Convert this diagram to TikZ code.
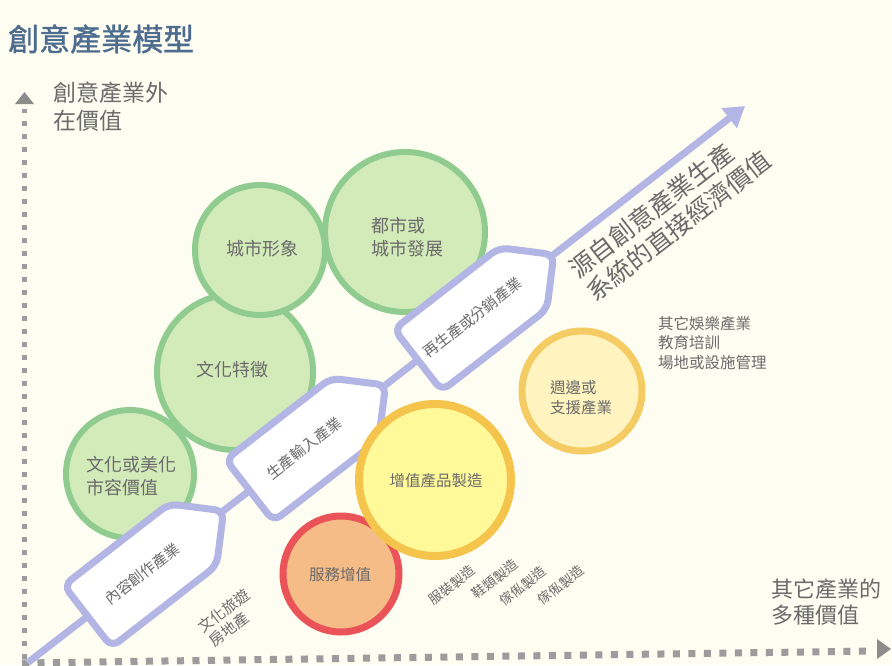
\documentclass[tikz,border=0pt]{standalone}
\usepackage{fontspec}
\setmainfont{Noto Sans CJK TC}
\newfontfamily\titlefont[FakeBold=1.2]{Noto Sans CJK TC}
\usetikzlibrary{arrows.meta}
\definecolor{bgcol}{HTML}{FDFDF1}
\definecolor{axgray}{HTML}{9C9C9C}
\definecolor{tipgray}{HTML}{8C8C8C}
\definecolor{txtgray}{HTML}{6B6B6B}
\definecolor{titleblue}{HTML}{4E6D8E}
\definecolor{lav}{HTML}{B3B6E4}
\definecolor{grfill}{HTML}{D3EAB9}
\definecolor{grline}{HTML}{90CB90}
\definecolor{yefill}{HTML}{FFF99A}
\definecolor{yeline}{HTML}{F4C44C}
\definecolor{orfill}{HTML}{F5BC88}
\definecolor{orline}{HTML}{EA5357}
\definecolor{pafill}{HTML}{FFF4C0}
\definecolor{paline}{HTML}{F5CB64}
\tikzset{
  greencirc/.style={circle, draw=grline, fill=grfill, line width=6pt, inner sep=0pt},
  yellowcirc/.style={circle, draw=yeline, fill=yefill, line width=8pt, inner sep=0pt},
  redcirc/.style={circle, draw=orline, fill=orfill, line width=7pt, inner sep=0pt},
  palecirc/.style={circle, draw=paline, fill=pafill, line width=7pt, inner sep=0pt},
  ctext/.style={text=txtgray, inner sep=0pt, align=left, font=\fontsize{18}{22.5}\selectfont},
  stext/.style={text=txtgray, inner sep=0pt, align=left, font=\fontsize{15.5}{20}\selectfont},
  boxline/.style={draw=lav, fill=white, line width=7pt, rounded corners=9pt},
  boxtext/.style={text=txtgray, inner sep=0pt, font=\fontsize{15}{17}\selectfont},
  flow/.style={draw=lav, line width=7pt, -{Triangle[length=20pt,width=24pt]}},
  axislbl/.style={text=txtgray, inner sep=0pt, align=left},
  rottext/.style={text=txtgray, inner sep=0pt, align=left, rotate=37.8},
  vdots/.style={draw=axgray, line width=5pt, dash pattern=on 5pt off 8pt},
  hdots/.style={draw=axgray, line width=7pt, dash pattern=on 7pt off 8.5pt},
}
\newcommand{\ProdBox}[3]{%
  \begin{scope}[shift={#2}, rotate=37.8]
    \path[boxline] (0,0) -- (0,-39) -- (133,-39) -- (172,0) -- (133,39) -- (0,39) -- cycle;
    \node[boxtext, transform shape] (#1) at (69,0) {#3};
  \end{scope}}
\begin{document}
\begin{tikzpicture}[x=1pt,y=-1pt]
\fill[bgcol] (0,0) rectangle (892,665);
\useasboundingbox (0,0) rectangle (892,665);

% axes
\coordinate (yo) at (24.5,659);
\coordinate (ytop) at (24.5,109);
\coordinate (xo) at (22,663);
\coordinate (xend) at (874,651);
\draw[vdots] (yo) -- (ytop);
\fill[tipgray] (15,104) -- (24.5,92) -- (34,104) -- cycle;
\draw[hdots] (xo) -- (xend);
\fill[tipgray] (877,639) -- (891,649) -- (877,659) -- cycle;

% title and axis labels
\node[anchor=west, text=titleblue, inner sep=0pt, font=\titlefont\fontsize{31}{31}\selectfont] (title) at (8,39) {創意產業模型};
\node[axislbl, anchor=west, font=\fontsize{23}{28}\selectfont] (ylbl) at (53,107) {創意產業外\\在價值};
\node[axislbl, anchor=west, font=\fontsize{22}{26}\selectfont] (xlbl) at (771,602) {其它產業的\\多種價值};

% green circles
\node[greencirc, minimum size=156pt] (g2) at (235,372) {};
\node[greencirc, minimum size=128pt] (g1) at (130,474) {};
\node[greencirc, minimum size=130pt] (g3) at (260,250) {};
\node[greencirc, minimum size=160pt] (g4) at (405,232) {};

% main diagonal flow
\coordinate (flowstart) at (27.6,662.8);
\coordinate (flowend) at (745,106);
\draw[flow] (flowstart) -- (flowend);

% production boxes
\ProdBox{b1}{(87.7,616.2)}{內容創作產業}
\ProdBox{b2}{(249.65,490.5)}{生產輸入產業}
\ProdBox{b3}{(417.9,360.0)}{再生產或分銷產業}

% other circles
\node[redcirc, minimum size=116pt] (r1) at (341,574) {};
\node[yellowcirc, minimum size=152pt] (y1) at (435,480) {};
\node[palecirc, minimum size=120pt] (y2) at (582,391) {};

% circle texts
\node[ctext] (g1t) at (131,476) {文化或美化\\市容價值};
\node[ctext] (g2t) at (232,370) {文化特徵};
\node[ctext] (g3t) at (262,249) {城市形象};
\node[ctext] (g4t) at (407,237) {都市或\\城市發展};
\node[stext] (y1t) at (436,481) {增值產品製造};
\node[stext] (r1t) at (340,575) {服務增值};
\node[stext] (y2t) at (581,398) {週邊或\\支援產業};

% side labels
\node[stext, anchor=west, font=\fontsize{15.5}{19.5}\selectfont] (others) at (658,343) {其它娛樂產業\\教育培訓\\場地或設施管理};
\node[rottext, font=\fontsize{25}{29}\selectfont] (direct) at (670,214.5) {源自創意產業生產\\系統的直接經濟價值};
\node[rottext, font=\fontsize{15}{18}\selectfont] (tour) at (229.5,618) {文化旅遊\\房地產};
\node[rottext, font=\fontsize{13.5}{16}\selectfont] (m1) at (452,585) {服裝製造};
\node[rottext, font=\fontsize{13.5}{16}\selectfont] (m2) at (495,579) {鞋類製造};
\node[rottext, font=\fontsize{13.5}{16}\selectfont] (m3) at (523,586) {傢俬製造};
\node[rottext, font=\fontsize{13.5}{16}\selectfont] (m4) at (561,585) {傢俬製造};
\end{tikzpicture}
\end{document}
